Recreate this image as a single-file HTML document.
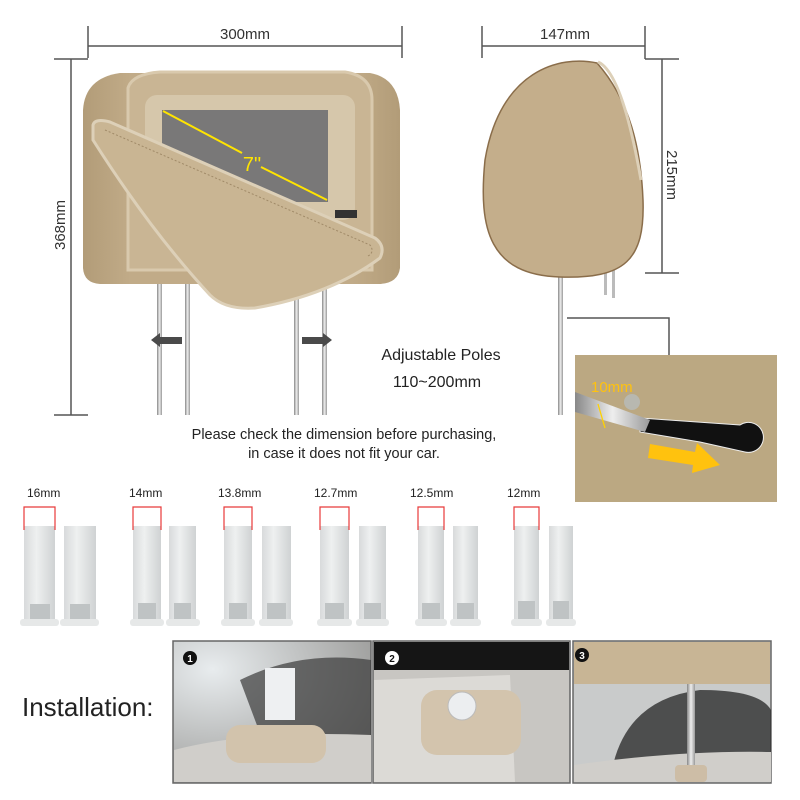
<!DOCTYPE html>
<html><head><meta charset="utf-8"><style>
body{margin:0;background:#fff}
svg{display:block}
text{font-family:"Liberation Sans",sans-serif}
</style></head><body>
<svg width="800" height="800" viewBox="0 0 800 800" xmlns="http://www.w3.org/2000/svg">
<defs>
<linearGradient id="pole" x1="0" x2="1"><stop offset="0" stop-color="#888"/><stop offset="0.5" stop-color="#eee"/><stop offset="1" stop-color="#999"/></linearGradient>
<linearGradient id="sl" x1="0" x2="1"><stop offset="0" stop-color="#d8dadb"/><stop offset="0.4" stop-color="#eef0f0"/><stop offset="1" stop-color="#cfd2d3"/></linearGradient>
<linearGradient id="body" x1="0" x2="1"><stop offset="0" stop-color="#b29c78"/><stop offset="0.15" stop-color="#c1ab88"/><stop offset="0.85" stop-color="#c1ab88"/><stop offset="1" stop-color="#b29c78"/></linearGradient>
<radialGradient id="bg1" cx="0.2" cy="0.2" r="0.9"><stop offset="0" stop-color="#e8ecee"/><stop offset="1" stop-color="#9a9a98"/></radialGradient>
</defs>
<g stroke="#555" stroke-width="1.5" fill="none">
<line x1="88" y1="46" x2="402" y2="46"/><line x1="88" y1="26" x2="88" y2="58"/><line x1="402" y1="26" x2="402" y2="58"/>
<line x1="71" y1="59" x2="71" y2="415"/><line x1="54" y1="59" x2="88" y2="59"/><line x1="54" y1="415" x2="88" y2="415"/>
<line x1="482" y1="46" x2="645" y2="46"/><line x1="482" y1="26" x2="482" y2="58"/><line x1="645" y1="26" x2="645" y2="59"/>
<line x1="662" y1="59" x2="662" y2="273"/><line x1="645" y1="59" x2="679" y2="59"/><line x1="645" y1="273" x2="679" y2="273"/>
<polyline points="567,318 669,318 669,397"/>
</g>
<text x="245" y="39" font-size="15" text-anchor="middle" fill="#333">300mm</text>
<text x="565" y="39" font-size="15" text-anchor="middle" fill="#333">147mm</text>
<text transform="translate(65,225) rotate(-90)" font-size="15" text-anchor="middle" fill="#333">368mm</text>
<text transform="translate(667,175) rotate(90)" font-size="15" text-anchor="middle" fill="#333">215mm</text>
<rect x="157" y="280" width="5" height="135" fill="url(#pole)"/>
<rect x="185" y="280" width="5" height="135" fill="url(#pole)"/>
<rect x="294" y="280" width="5" height="135" fill="url(#pole)"/>
<rect x="322" y="280" width="5" height="135" fill="url(#pole)"/>
<polygon points="151,340 160,333 160,337 182,337 182,344 160,344 160,347" fill="#4a4a4a"/>
<polygon points="332,340 323,333 323,337 302,337 302,344 323,344 323,347" fill="#4a4a4a"/>
<path d="M83,110 Q85,78 120,73 L370,73 Q398,78 400,110 L400,268 Q398,283 380,284 L100,284 Q84,283 83,268 Z" fill="url(#body)"/>
<path d="M128,88 Q132,74 160,72 L345,72 Q372,76 372,100 L372,270 L128,270 Z" fill="#c9b594" stroke="#d9c9ad" stroke-width="3"/>
<rect x="145" y="95" width="210" height="125" rx="12" fill="#d6c7ab"/>
<rect x="162" y="110" width="166" height="92" fill="#797878"/>
<rect x="335" y="210" width="22" height="8" fill="#333"/>
<line x1="163" y1="111" x2="242" y2="153" stroke="#ffe400" stroke-width="2"/>
<line x1="261" y1="167" x2="327" y2="200" stroke="#ffe400" stroke-width="2"/>
<text x="252" y="171" font-size="20" fill="#ffe400" text-anchor="middle">7"</text>
<path d="M93,125 Q95,118 110,122 L375,238 Q386,246 380,258 Q330,295 255,308 Q225,310 210,295 Q150,230 93,140 Z" fill="#c9b593" stroke="#ddd0b8" stroke-width="3"/>
<path d="M105,130 L370,245 Q375,252 368,256" fill="none" stroke="#a08a68" stroke-width="1" stroke-dasharray="2,2"/>
<rect x="558" y="270" width="5" height="145" fill="url(#pole)"/>
<rect x="604" y="270" width="3" height="25" fill="#bbb"/><rect x="612" y="270" width="3" height="28" fill="#bbb"/>
<path d="M597,63 C560,55 500,70 485,160 C478,230 490,275 560,277 C625,279 645,260 643,200 C641,150 630,100 597,63 Z" fill="#c4ae8b" stroke="#8a6d4a" stroke-width="1.5"/>
<path d="M598,62 Q622,72 641,180" fill="none" stroke="#ddd0b8" stroke-width="3"/>
<rect x="575" y="355" width="202" height="147" fill="#bba882"/>
<path d="M640,418 L740,425 A15,15 0 1 1 745,452 L700,442 L640,432 Z" fill="#111" stroke="#eee" stroke-width="1"/>
<polygon points="575,392 650,420 645,432 575,412" fill="url(#pole)"/>
<circle cx="632" cy="402" r="8" fill="#b8b8b0"/>
<line x1="598" y1="404" x2="605" y2="428" stroke="#ffd200" stroke-width="1.3"/>
<polygon points="650,444 695,452 697,443 720,465 692,473 693,465 648,458" fill="#ffc20e"/>
<text x="591" y="392" font-size="15" fill="#ffc20e">10mm</text>
<text x="441" y="360" font-size="16" text-anchor="middle" fill="#222">Adjustable Poles</text>
<text x="437" y="387" font-size="16" text-anchor="middle" fill="#222">110~200mm</text>
<text x="344" y="439" font-size="14.5" text-anchor="middle" fill="#222">Please check the dimension before purchasing,</text>
<text x="344" y="458" font-size="14.5" text-anchor="middle" fill="#222">in case it does not fit your car.</text>
<g font-size="12" fill="#222">
<text x="27" y="497">16mm</text><text x="129" y="497">14mm</text><text x="218" y="497">13.8mm</text>
<text x="314" y="497">12.7mm</text><text x="410" y="497">12.5mm</text><text x="507" y="497">12mm</text>
</g>
<g fill="url(#sl)">
<rect x="24" y="526" width="31" height="95"/><rect x="64" y="526" width="32" height="95"/>
<rect x="133" y="526" width="28" height="95"/><rect x="169" y="526" width="27" height="95"/>
<rect x="224" y="526" width="28" height="95"/><rect x="262" y="526" width="29" height="95"/>
<rect x="320" y="526" width="29" height="95"/><rect x="359" y="526" width="27" height="95"/>
<rect x="418" y="526" width="26" height="95"/><rect x="453" y="526" width="25" height="95"/>
<rect x="514" y="526" width="25" height="95"/><rect x="549" y="526" width="24" height="95"/>
</g>
<g fill="#e6e8e8">
<rect x="20" y="619" width="39" height="7" rx="3"/><rect x="60" y="619" width="39" height="7" rx="3"/>
<rect x="130" y="619" width="34" height="7" rx="3"/><rect x="166" y="619" width="34" height="7" rx="3"/>
<rect x="221" y="619" width="34" height="7" rx="3"/><rect x="259" y="619" width="34" height="7" rx="3"/>
<rect x="317" y="619" width="35" height="7" rx="3"/><rect x="356" y="619" width="33" height="7" rx="3"/>
<rect x="415" y="619" width="32" height="7" rx="3"/><rect x="450" y="619" width="31" height="7" rx="3"/>
<rect x="511" y="619" width="31" height="7" rx="3"/><rect x="546" y="619" width="30" height="7" rx="3"/>
</g>
<g fill="#bfc3c4">
<rect x="30" y="604" width="20" height="15"/><rect x="70" y="604" width="20" height="15"/>
<rect x="138" y="603" width="18" height="16"/><rect x="174" y="603" width="17" height="16"/>
<rect x="229" y="603" width="18" height="16"/><rect x="267" y="603" width="19" height="16"/>
<rect x="325" y="603" width="19" height="16"/><rect x="364" y="603" width="17" height="16"/>
<rect x="422" y="603" width="18" height="16"/><rect x="457" y="603" width="17" height="16"/>
<rect x="518" y="601" width="17" height="18"/><rect x="553" y="601" width="16" height="18"/>
</g>
<g fill="none" stroke="#e83a3a" stroke-width="1.2">
<polyline points="24,530 24,507 55,507 55,530"/>
<polyline points="133,530 133,507 161,507 161,530"/>
<polyline points="224,530 224,507 252,507 252,530"/>
<polyline points="320,530 320,507 349,507 349,530"/>
<polyline points="418,530 418,507 444,507 444,530"/>
<polyline points="514,530 514,507 539,507 539,530"/>
</g>
<text x="22" y="716" font-size="26" fill="#222">Installation:</text>
<g>
<rect x="173" y="641" width="198" height="142" fill="url(#bg1)" stroke="#666" stroke-width="1.5"/>
<path d="M240,680 Q300,650 371,660 L371,760 L270,760 Z" fill="#3a3a3a" opacity="0.7"/>
<path d="M174,750 Q250,730 371,735 L371,782 L174,782 Z" fill="#d0ceca"/>
<rect x="265" y="668" width="30" height="52" fill="#eef0f2"/>
<rect x="226" y="725" width="100" height="38" rx="14" fill="#d2c3ac"/>
<circle cx="190" cy="658" r="7" fill="#111"/><text x="190" y="662" font-size="10" fill="#fff" text-anchor="middle" font-weight="bold">1</text>
</g>
<g>
<rect x="373" y="641" width="197" height="142" fill="#c8c6c2" stroke="#666" stroke-width="1.5"/>
<rect x="374" y="642" width="195" height="28" fill="#151515"/>
<path d="M374,680 L510,675 L515,782 L374,782 Z" fill="#dcdad6"/>
<rect x="421" y="690" width="100" height="65" rx="16" fill="#d3c4ad"/>
<circle cx="462" cy="706" r="14" fill="#eceef0" stroke="#bbb"/>
<circle cx="392" cy="658" r="7" fill="#fff"/><text x="392" y="662" font-size="10" fill="#111" text-anchor="middle" font-weight="bold">2</text>
</g>
<g>
<rect x="573" y="641" width="198" height="142" fill="#c9cbcb" stroke="#666" stroke-width="1.5"/>
<path d="M610,782 Q620,700 700,690 Q760,690 771,710 L771,782 Z" fill="#2e2e2e" opacity="0.8"/>
<path d="M574,765 Q680,750 771,752 L771,782 L574,782 Z" fill="#d0ceca"/>
<rect x="574" y="642" width="196" height="42" fill="#c8b595"/>
<rect x="687" y="684" width="8" height="85" fill="url(#pole)"/>
<rect x="675" y="765" width="32" height="17" rx="4" fill="#cdbda6"/>
<circle cx="582" cy="655" r="7" fill="#111"/><text x="582" y="659" font-size="10" fill="#fff" text-anchor="middle" font-weight="bold">3</text>
</g>
</svg>
</body></html>
